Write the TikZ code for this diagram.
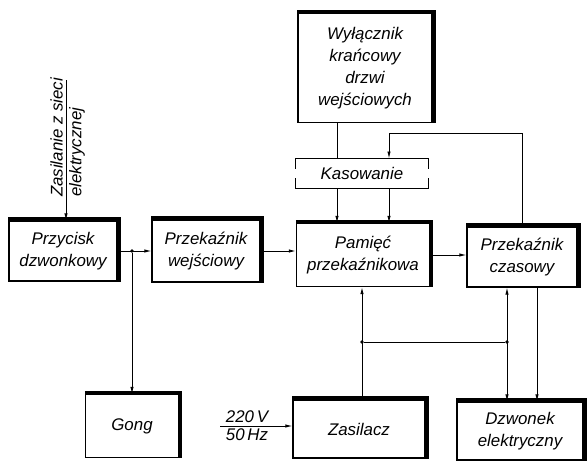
\documentclass[tikz,border=0pt]{standalone}
\usepackage{fontspec}
\setsansfont{Liberation Sans}
\usepackage{tikz}
\usetikzlibrary{arrows.meta, calc}

\tikzset{
  blok/.style={draw, fill=white, line width=0.8pt, align=center, inner sep=2pt,
    font=\sffamily\itshape\fontsize{12}{15.5}\selectfont},
  napis/.style={font=\sffamily\itshape\fontsize{12}{14}\selectfont, inner sep=2pt},
  cien/.style={line width=2.2pt},
  strz/.style={line width=0.6pt, -{Latex[length=5pt,width=2.4pt]}},
  linia/.style={line width=0.6pt},
  kropka/.style={circle, fill, inner sep=0.9pt},
}

\begin{document}
\begin{tikzpicture}[x=0.025cm, y=-0.025cm]
        \useasboundingbox (0,0) rectangle (588,461);

        % Bloki
        \node[blok, minimum width=2.7cm, minimum height=1.5cm] (przycisk) at (63,251) {Przycisk\\dzwonkowy};
        \node[blok, minimum width=2.7cm, minimum height=1.55cm] (wejsciowy) at (206,251) {Przekaźnik\\wejściowy};
        \node[blok, minimum width=3.33cm, minimum height=1.58cm] (pamiec) at (363,255) {Pamięć\\przekaźnikowa};
        \node[blok, minimum width=2.75cm, minimum height=1.5cm] (czasowy) at (522,257) {Przekaźnik\\czasowy};
        \node[blok, minimum width=3.35cm, minimum height=2.73cm] (wylacznik) at (365,68) {Wyłącznik\\krańcowy\\drzwi\\wejściowych};
        \node[blok, draw=none, fill=none, minimum width=3.28cm, minimum height=0.72cm] (kasowanie) at (362,173.5) {Kasowanie};
        \node[blok, minimum width=2.33cm, minimum height=1.58cm] (gong) at (132,426) {Gong};
        \node[blok, minimum width=3.3cm, minimum height=1.45cm] (zasilacz) at (359,429) {Zasilacz};
        \node[blok, minimum width=3.15cm, minimum height=1.45cm] (dzwonek) at (520,431) {Dzwonek\\elektryczny};

        % Cienie
        \foreach \n in {przycisk,wejsciowy,pamiec,czasowy,wylacznik,gong,zasilacz,dzwonek}
          \draw[cien] ([yshift=1.1pt]\n.north west) -- ([xshift=1.1pt,yshift=1.1pt]\n.north east) -- ([xshift=1.1pt]\n.south east);

        % Ramka kasowania
        \draw[line width=0.8pt] (kasowanie.north west) ++(0,10) -- (kasowanie.north west) -- (kasowanie.north east) -- ++(0,10);
        \draw[line width=0.8pt] (kasowanie.south west) ++(0,-10) -- (kasowanie.south west) -- (kasowanie.south east) -- ++(0,-10);

        % Zasilanie z sieci
        \coordinate (zrodlo) at (66,80);
        \draw[strz] (zrodlo) -- (zrodlo |- przycisk.north);
        \node[napis, rotate=90, anchor=south west] (zas1) at (66,200) {Zasilanie z sieci};
        \node[napis, rotate=90, anchor=north west] (zas2) at (66,200) {elektrycznej};

        % Tor sygnalu
        \node[kropka] (w1) at (przycisk.east -| gong.north) {};
        \draw[strz] (przycisk.east) -- (przycisk.east -| wejsciowy.west);
        \draw[strz] (w1) -- (gong);
        \draw[strz] (wejsciowy.east) -- (wejsciowy.east -| pamiec.west);
        \draw[strz] (pamiec.east) -- (pamiec.east -| czasowy.west);

        % Kasowanie
        \coordinate (lewa) at (337,0);
        \coordinate (zakret) at (389,133);
        \draw[linia] (wylacznik.south -| lewa) -- (kasowanie.north -| lewa);
        \draw[strz] (kasowanie.south -| lewa) -- (pamiec.north -| lewa);
        \draw[strz] (kasowanie.south -| zakret) -- (pamiec.north -| zakret);
        \draw[strz] (czasowy.north) |- (zakret) -- (kasowanie.north -| zakret);

        % Zasilacz
        \coordinate (siec) at (220,426);
        \draw[strz] (siec) -- (siec -| zasilacz.west);
        \node[napis, above] (napiecie) at (247,426) {220\,V};
        \node[napis, below] (czestotl) at (247,426) {50\,Hz};
        \node[kropka] (w2) at (362,342) {};
        \node[kropka] (w3) at (507,342) {};
        \coordinate (dzw) at (537,0);
        \draw[strz] (zasilacz.north -| w2) -- (pamiec.south -| w2);
        \draw[linia] (w2) -- (w3);
        \draw[strz, {Latex[length=5pt,width=2.4pt]}-{Latex[length=5pt,width=2.4pt]}] (czasowy.south -| w3) -- (dzwonek.north -| w3);
        \draw[strz] (czasowy.south -| dzw) -- (dzwonek.north -| dzw);
\end{tikzpicture}
\end{document}
